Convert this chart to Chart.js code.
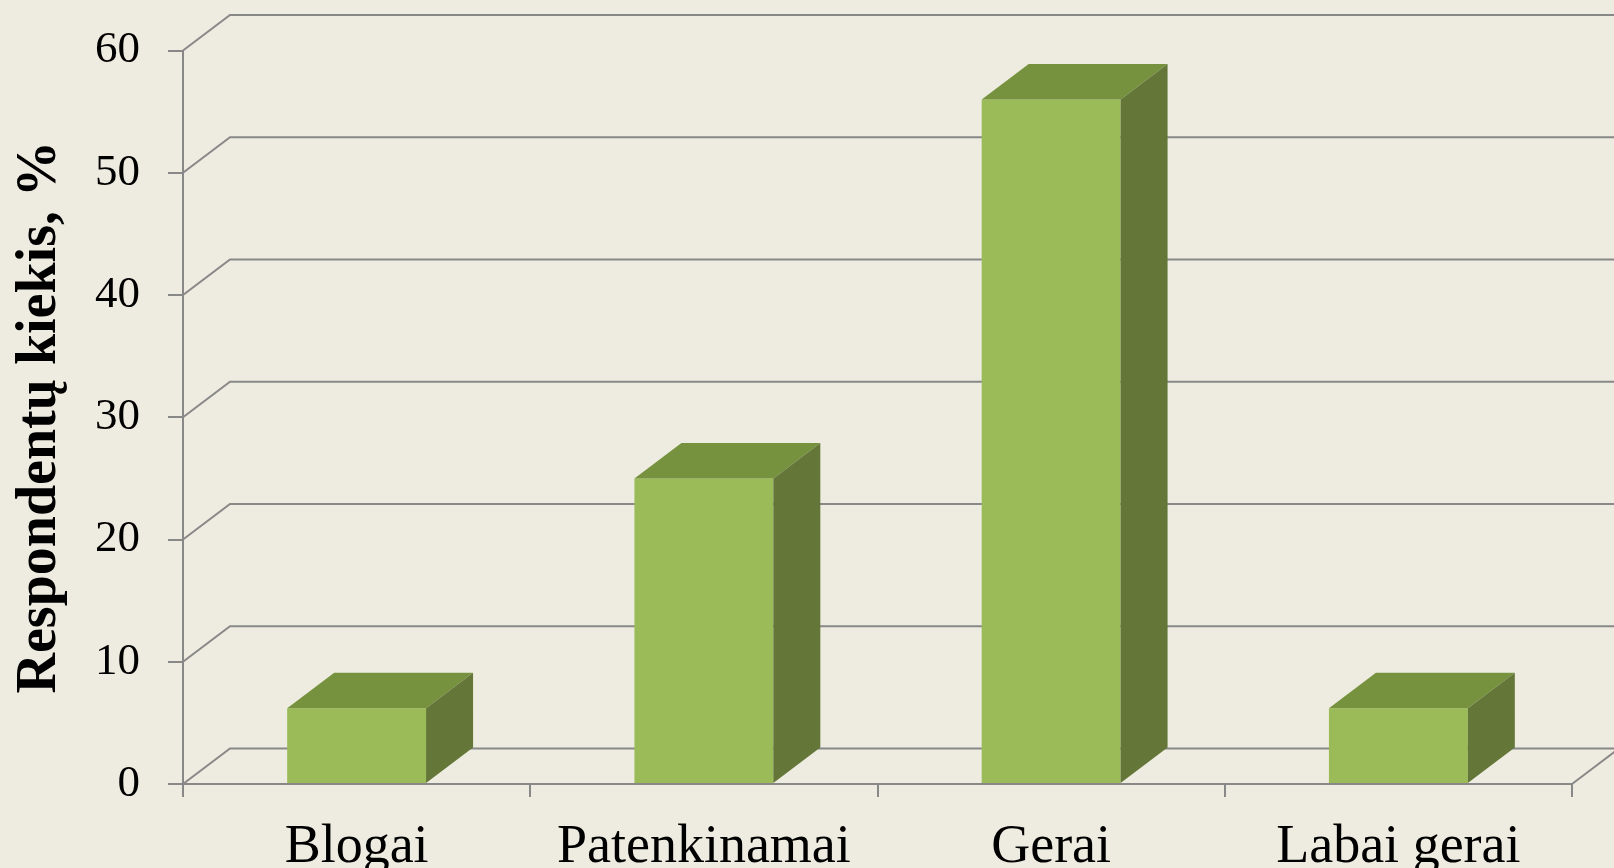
<!DOCTYPE html>
<html lang="lt">
<head>
  <meta charset="UTF-8" />
  <title>Respondentų kiekis</title>
  <script src="https://cdn.jsdelivr.net/npm/chart.js"></script>
  <style>
    html, body {
      margin: 0;
      padding: 0;
      background: #eeece1;
    }
    .wrap {
      width: 1614px;
      height: 868px;
      position: relative;
    }
  </style>
</head>
<body>
  <div class="wrap"><canvas id="chart"></canvas></div>

  <script>
    const categories = ['Blogai', 'Patenkinamai', 'Gerai', 'Labai gerai'];
    const values = [6.2, 25, 56, 6.2];
    const yTicks = [0, 10, 20, 30, 40, 50, 60];

    // 3D depth of the wall / bars
    const depthX = 47, depthY = 35.5;
    const gridColor = '#888888';

    const box3d = {
      id: 'box3d',
      beforeDatasetsDraw(chart) {
        const { ctx, chartArea, scales: { y } } = chart;
        ctx.save();
        ctx.strokeStyle = gridColor;
        ctx.lineWidth = 2;
        yTicks.forEach(v => {
          const py = y.getPixelForValue(v);
          ctx.beginPath();
          ctx.moveTo(chartArea.left, py);
          ctx.lineTo(chartArea.left + depthX, py - depthY);
          ctx.lineTo(chart.width + 5, py - depthY);
          ctx.stroke();
        });
        // floor, right edge
        const py0 = y.getPixelForValue(0);
        ctx.beginPath();
        ctx.moveTo(chartArea.right, py0);
        ctx.lineTo(chartArea.right + depthX, py0 - depthY);
        ctx.stroke();
        ctx.restore();
      },
      afterDatasetsDraw(chart) {
        const ctx = chart.ctx;
        ctx.save();
        chart.getDatasetMeta(0).data.forEach(bar => {
          const { x, y, base, width } = bar.getProps(['x', 'y', 'base', 'width'], true);
          const l = x - width / 2, r = x + width / 2;
          // top
          ctx.fillStyle = '#77923f';
          ctx.beginPath();
          ctx.moveTo(l, y);
          ctx.lineTo(l + depthX, y - depthY);
          ctx.lineTo(r + depthX, y - depthY);
          ctx.lineTo(r, y);
          ctx.closePath();
          ctx.fill();
          // side
          ctx.fillStyle = '#647739';
          ctx.beginPath();
          ctx.moveTo(r, y);
          ctx.lineTo(r + depthX, y - depthY);
          ctx.lineTo(r + depthX, base - depthY);
          ctx.lineTo(r, base);
          ctx.closePath();
          ctx.fill();
        });
        ctx.restore();
      }
    };

    new Chart(document.getElementById('chart'), {
      type: 'bar',
      data: {
        labels: categories,
        datasets: [{
          data: values,
          backgroundColor: '#9bbb59',
          borderWidth: 0,
          barPercentage: 0.4,
          categoryPercentage: 1
        }]
      },
      options: {
        responsive: true,
        maintainAspectRatio: false,
        animation: false,
        layout: { padding: { top: 47, right: 42, left: 0, bottom: 0 } },
        plugins: {
          legend: { display: false },
          tooltip: { enabled: false }
        },
        scales: {
          x: {
            afterFit(scale) { scale.height = 84; },
            grid: {
              offset: true,
              drawOnChartArea: false,
              drawTicks: true,
              tickLength: 13,
              color: gridColor,
              lineWidth: 2
            },
            border: { color: gridColor, width: 2 },
            ticks: {
              color: '#000',
              padding: 18,
              font: { family: 'Liberation Serif', size: 54 }
            }
          },
          y: {
            min: 0,
            max: 60,
            afterFit(scale) { scale.width = 183; },
            afterBuildTicks(scale) {
              scale.ticks = yTicks.map(v => ({ value: v }));
            },
            grid: {
              drawOnChartArea: false,
              drawTicks: true,
              tickLength: 15,
              color: gridColor,
              lineWidth: 2
            },
            border: { color: gridColor, width: 2 },
            ticks: {
              color: '#000',
              padding: 28,
              font: { family: 'Liberation Serif', size: 45, lineHeight: 1 }
            },
            title: {
              display: true,
              text: 'Respondentų kiekis, %',
              color: '#000',
              padding: { top: 7, bottom: 0 },
              font: { family: 'Liberation Serif', size: 56, weight: 'bold' }
            }
          }
        }
      },
      plugins: [box3d]
    });
  </script>
</body>
</html>
